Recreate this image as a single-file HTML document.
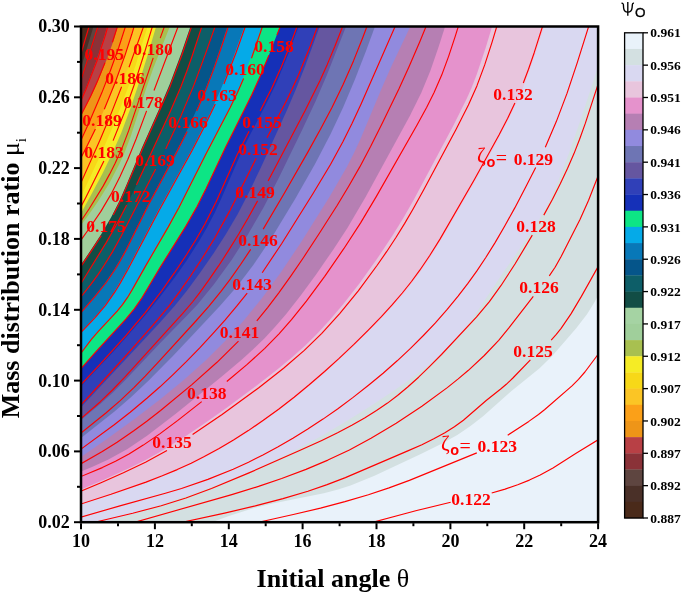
<!DOCTYPE html>
<html><head><meta charset="utf-8"><title>chart</title><style>html,body{margin:0;padding:0;background:#fff}</style></head><body>
<svg width="685" height="594" viewBox="0 0 685 594" style="display:block;will-change:transform;filter:grayscale(0)">
<defs><clipPath id="pc"><rect x="81.0" y="26.5" width="517.1" height="495.7"/></clipPath>
</defs>
<rect x="0" y="0" width="685" height="594" fill="#fff"/>
<g clip-path="url(#pc)" shape-rendering="geometricPrecision">
<rect x="81.0" y="26.5" width="517.1" height="495.7" fill="#e9f2fa"/>
<path d="M614.0,266.4 L594.3,302.4 L587.0,314.3 L576.0,328.6 L552.4,355.8 L539.6,368.3 L511.5,391.0 L483.1,416.3 L470.5,426.1 L457.3,435.0 L441.6,443.8 L421.9,453.6 L374.5,475.7 L350.5,485.5 L337.2,489.8 L323.8,493.3 L272.7,503.5 L253.2,508.3 L230.4,515.6 L181.1,533.1 L-100.0,533.1 L-100.0,-100.0 L614.0,-100.0Z" fill="#d3e0e1"/>
<path d="M607.8,36.7 L582.7,113.7 L568.9,153.4 L557.3,183.4 L551.6,196.1 L546.3,206.9 L539.5,219.0 L531.0,232.5 L502.4,273.7 L473.5,317.1 L466.4,326.7 L458.9,336.0 L450.9,344.8 L442.4,353.2 L428.8,365.0 L413.0,377.3 L394.8,390.1 L371.1,405.7 L345.6,421.7 L323.2,434.9 L300.5,447.5 L279.2,458.3 L261.2,466.7 L242.9,474.6 L222.5,482.8 L200.0,491.2 L154.5,506.7 L75.2,531.8 L-100.0,531.8 L-100.0,-100.0 L607.8,-100.0Z" fill="#d9d8f1"/>
<path d="M554.5,-6.4 L536.1,51.8 L525.3,81.9 L519.2,96.7 L512.6,111.3 L495.2,145.1 L477.7,176.6 L449.8,225.1 L437.5,245.8 L427.8,260.9 L417.5,275.7 L405.2,291.4 L392.2,306.6 L375.7,324.2 L355.9,344.0 L336.9,361.8 L317.5,379.1 L299.1,394.5 L280.1,409.3 L262.3,422.3 L244.0,434.6 L225.2,446.1 L209.4,454.9 L193.4,463.0 L177.1,470.4 L158.6,478.0 L139.8,485.0 L119.0,492.2 L48.2,514.9 L-100.0,514.9 L-100.0,-100.0 L554.5,-100.0Z" fill="#e8c5dd"/>
<path d="M502.0,-6.5 L485.6,48.1 L476.7,74.6 L471.6,87.7 L466.8,98.6 L453.4,125.5 L413.8,199.7 L402.9,218.7 L392.4,235.7 L376.9,259.1 L359.4,283.5 L343.4,304.1 L329.1,320.8 L316.9,334.0 L305.5,345.2 L292.1,357.2 L276.7,370.0 L256.1,386.0 L227.1,407.4 L205.8,422.6 L185.9,436.0 L158.7,452.8 L144.7,460.5 L132.2,466.8 L105.0,479.3 L49.4,503.1 L-100.0,503.1 L-100.0,-100.0 L502.0,-100.0Z" fill="#e592cc"/>
<path d="M455.5,-6.4 L438.9,46.1 L430.4,70.7 L421.3,92.8 L409.8,116.1 L365.6,196.9 L347.4,227.9 L333.2,249.7 L316.1,274.4 L300.7,295.5 L285.8,314.4 L275.4,326.5 L264.6,338.2 L253.2,349.3 L241.4,360.0 L221.5,376.8 L176.1,413.5 L147.4,435.6 L127.5,448.9 L108.4,459.6 L92.0,467.1 L49.2,484.6 L-100.0,484.6 L-100.0,-100.0 L455.5,-100.0Z" fill="#b67fb3"/>
<path d="M425.1,-4.6 L391.2,66.8 L381.5,88.7 L360.7,138.6 L354.0,153.1 L346.7,167.3 L329.6,196.8 L300.9,242.5 L280.8,272.4 L261.9,298.2 L244.2,320.0 L225.4,340.8 L205.6,360.5 L183.2,380.6 L160.0,399.6 L134.5,419.0 L106.9,438.9 L53.0,476.6 L-100.0,476.6 L-100.0,-100.0 L425.1,-100.0Z" fill="#918ade"/>
<path d="M386.9,-5.8 L365.8,51.4 L354.9,79.4 L343.3,107.0 L330.5,134.2 L314.9,164.3 L295.1,199.1 L271.2,238.5 L253.3,265.1 L237.6,285.7 L219.2,306.8 L173.9,355.0 L148.7,380.6 L131.2,397.0 L114.5,411.4 L54.2,459.2 L-100.0,459.2 L-100.0,-100.0 L386.9,-100.0Z" fill="#6e75b4"/>
<path d="M358.7,-5.6 L326.8,75.3 L315.7,101.0 L302.1,130.0 L278.5,178.6 L263.8,207.0 L247.8,234.8 L231.6,260.0 L214.0,284.3 L197.5,304.4 L186.6,316.1 L160.0,343.3 L125.6,379.7 L112.9,392.4 L101.1,403.2 L54.8,442.0 L-100.0,442.0 L-100.0,-100.0 L358.7,-100.0Z" fill="#6556a0"/>
<path d="M331.6,-5.9 L305.0,66.4 L296.1,88.7 L287.5,108.9 L261.8,165.4 L249.8,190.7 L237.9,213.8 L225.7,234.5 L213.8,253.0 L200.1,272.7 L187.1,290.5 L174.6,306.1 L160.0,322.5 L64.0,425.4 L-100.0,425.4 L-100.0,-100.0 L331.6,-100.0Z" fill="#3040b8"/>
<path d="M310.7,-5.8 L288.7,53.2 L276.5,82.8 L267.8,100.8 L250.2,134.5 L242.2,150.6 L221.4,198.3 L214.7,212.8 L207.3,227.0 L199.3,240.8 L187.4,259.4 L174.7,277.4 L160.3,296.6 L145.2,315.3 L129.6,333.6 L113.6,351.4 L57.8,410.9 L-100.0,410.9 L-100.0,-100.0 L310.7,-100.0Z" fill="#1530b8"/>
<path d="M292.6,-5.6 L269.0,55.0 L254.9,88.1 L246.3,106.1 L224.8,149.0 L202.5,196.0 L196.1,208.5 L189.2,220.6 L159.6,268.2 L143.3,295.8 L134.3,308.9 L124.1,321.2 L96.9,350.7 L58.5,393.6 L-100.0,393.6 L-100.0,-100.0 L292.6,-100.0Z" fill="#0de585"/>
<path d="M272.8,-6.1 L251.7,55.4 L244.6,74.1 L238.4,88.8 L228.0,110.4 L206.6,151.2 L184.2,195.9 L173.9,215.3 L132.3,288.4 L124.9,300.3 L116.4,311.3 L97.2,331.7 L90.6,339.3 L61.1,379.0 L-100.0,379.0 L-100.0,-100.0 L272.8,-100.0Z" fill="#05aae8"/>
<path d="M256.1,-6.0 L229.3,68.3 L220.3,90.6 L211.3,110.7 L193.4,146.5 L157.7,211.3 L126.0,271.4 L113.9,292.2 L108.3,300.5 L102.3,308.4 L90.3,321.9 L57.4,355.8 L-100.0,355.8 L-100.0,-100.0 L256.1,-100.0Z" fill="#0878b8"/>
<path d="M238.3,-6.2 L214.5,64.9 L206.8,85.5 L198.3,105.8 L190.9,122.2 L182.1,140.2 L148.4,203.8 L125.2,250.5 L114.3,269.6 L104.1,284.3 L91.4,299.8 L58.7,337.0 L-100.0,337.0 L-100.0,-100.0 L238.3,-100.0Z" fill="#05558a"/>
<path d="M226.6,-6.0 L204.3,57.2 L190.8,92.7 L174.9,129.4 L154.9,170.8 L121.8,234.9 L107.0,260.9 L99.3,272.6 L92.3,282.4 L60.2,323.3 L-100.0,323.3 L-100.0,-100.0 L226.6,-100.0Z" fill="#0d5e68"/>
<path d="M212.5,-6.3 L192.3,55.5 L180.6,87.4 L169.6,113.1 L136.9,184.0 L124.7,209.2 L112.3,232.0 L98.0,256.1 L67.5,305.6 L-100.0,305.6 L-100.0,-100.0 L212.5,-100.0Z" fill="#124d45"/>
<path d="M201.6,-6.1 L181.2,53.5 L170.0,83.5 L161.5,103.7 L142.0,147.6 L126.6,184.6 L119.4,201.1 L111.3,217.1 L101.2,234.3 L90.2,251.1 L62.2,292.1 L-100.0,292.1 L-100.0,-100.0 L201.6,-100.0Z" fill="#a0cf9b"/>
<path d="M182.6,-5.5 L153.4,68.0 L146.1,88.7 L130.8,136.3 L125.1,151.3 L119.4,164.1 L109.2,183.6 L97.5,202.3 L88.2,215.4 L60.7,251.7 L-100.0,251.7 L-100.0,-100.0 L182.6,-100.0Z" fill="#a8c050"/>
<path d="M165.9,-6.6 L148.6,51.9 L139.1,82.5 L130.2,109.0 L121.0,133.4 L112.2,153.6 L102.6,173.3 L91.3,194.5 L65.1,242.0 L-100.0,242.0 L-100.0,-100.0 L165.9,-100.0Z" fill="#f5ec25"/>
<path d="M157.9,-6.5 L135.6,65.2 L128.6,86.0 L120.9,106.6 L111.9,128.9 L101.5,152.7 L67.2,226.6 L-100.0,226.6 L-100.0,-100.0 L157.9,-100.0Z" fill="#f7d818"/>
<path d="M154.9,-5.9 L128.6,66.4 L112.0,109.3 L95.0,149.9 L67.8,210.8 L-100.0,210.8 L-100.0,-100.0 L154.9,-100.0Z" fill="#fbc525"/>
<path d="M143.8,-6.6 L127.5,48.1 L119.6,70.7 L111.1,93.1 L103.3,111.5 L94.2,131.5 L68.0,183.0 L-100.0,183.0 L-100.0,-100.0 L143.8,-100.0Z" fill="#fba018"/>
<path d="M135.6,-6.4 L119.4,44.1 L104.2,85.4 L89.6,120.5 L67.3,168.6 L-100.0,168.6 L-100.0,-100.0 L135.6,-100.0Z" fill="#ee9518"/>
<path d="M127.8,-6.5 L113.6,40.4 L107.5,57.4 L100.9,74.1 L95.4,86.9 L89.4,99.6 L65.6,144.8 L-100.0,144.8 L-100.0,-100.0 L127.8,-100.0Z" fill="#b84045"/>
<path d="M116.3,-6.8 L104.8,34.7 L96.1,61.3 L86.2,87.5 L68.0,128.9 L-100.0,128.9 L-100.0,-100.0 L116.3,-100.0Z" fill="#8a3238"/>
<path d="M109.1,-6.4 L72.0,111.4 L-100.0,111.4 L-100.0,-100.0 L109.1,-100.0Z" fill="#5e4540"/>
<path d="M103.4,-6.5 L72.4,96.5 L-100.0,96.5 L-100.0,-100.0 L103.4,-100.0Z" fill="#4a3028"/>
<path d="M97.7,-6.6 L72.6,78.6 L-100.0,78.6 L-100.0,-100.0 L97.7,-100.0Z" fill="#4a2a1a"/>
</g>
<g clip-path="url(#pc)"><g fill="none" stroke="#ff0000" stroke-width="1.15" stroke-linejoin="round">
<path d="M98.7,-6.0 L73.6,78.6 L69.1,91.8 L67.3,95.6 L62.9,102.7 L60.2,111.4"/>
<path d="M108.1,-6.0 L72.7,106.9 L71.0,110.7 L65.4,118.7 L64.1,121.2 L60.2,135.3"/>
<path d="M116.9,-6.0 L105.4,35.1 L96.9,61.1 L85.8,89.8 L69.3,126.9 L64.7,135.5 L60.9,150.5 L59.1,155.8"/>
<path d="M127.0,-6.0 L116.7,28.9 L112.4,42.2"/>
<path d="M105.0,62.6 L97.1,82.1 L91.0,95.5 L84.7,108.0 L66.2,143.3 L64.8,147.3 L61.3,161.5 L59.2,168.2"/>
<path d="M135.9,-6.0 L118.8,47.3 L110.7,69.7 L101.9,92.6 L89.0,122.8 L69.2,165.4 L68.5,166.6 L67.3,167.3 L65.0,165.9 L64.1,166.9 L60.7,179.8 L58.1,187.0"/>
<path d="M143.7,-6.0 L131.8,34.3 L124.9,55.6 L114.9,83.2 L104.3,109.2"/>
<path d="M95.4,128.9 L86.8,146.5 L68.8,181.4 L67.7,183.1 L66.6,184.0 L66.0,184.0 L64.6,182.4 L64.0,182.2 L63.6,182.7 L60.7,193.5 L58.1,200.8"/>
<path d="M154.9,-6.0 L154.3,-3.3 L129.0,67.2"/>
<path d="M121.6,86.8 L111.1,113.6 L100.0,140.0 L69.5,208.5 L68.8,209.6 L68.2,210.0 L67.6,209.7 L67.1,208.4 L66.3,204.3 L65.7,203.0 L64.8,201.9 L64.2,201.7 L62.9,202.2 L62.3,203.4 L60.0,211.5 L57.1,219.4"/>
<path d="M162.2,-6.0 L144.4,53.0 L134.4,84.3 L124.1,113.3 L113.1,140.6"/>
<path d="M103.9,161.0 L85.8,197.4 L67.4,232.7 L66.5,233.8 L65.8,233.9 L65.3,233.5 L63.0,228.4 L62.5,228.0 L61.9,228.1 L61.1,229.3 L57.1,240.5"/>
<path d="M175.7,-6.0 L175.7,-4.7 L160.2,38.1"/>
<path d="M153.2,57.9 L128.6,130.9 L122.1,147.9 L114.9,163.8 L109.5,174.4 L103.1,186.1 L89.2,208.8 L65.7,243.6 L63.9,245.7 L61.4,246.7 L60.3,247.6 L56.0,258.7"/>
<path d="M188.9,-6.0 L189.9,-5.0 L189.7,-4.4 L189.0,-3.2 L188.3,-0.5 L154.0,90.5"/>
<path d="M146.6,110.9 L136.3,138.5 L127.9,159.2 L119.8,177.1 L111.2,193.9 L100.9,211.4 L88.7,229.3 L63.9,264.1 L62.9,265.1 L60.0,266.9 L59.0,267.9 L56.0,275.8"/>
<path d="M202.6,-6.0 L181.9,55.0 L170.1,86.4 L162.1,105.1 L142.7,148.6 L124.2,192.4 L118.7,204.5 L113.3,215.1"/>
<path d="M101.3,235.7 L90.6,252.1 L64.4,291.0 L63.4,292.0 L62.1,292.1 L61.2,291.0 L60.0,288.5 L59.4,288.1 L58.8,288.1 L58.0,289.3 L55.0,297.1"/>
<path d="M212.5,-6.0 L192.4,55.2 L186.6,71.7 L180.9,86.8 L169.3,113.8 L136.4,185.0"/>
<path d="M126.7,205.1 L117.0,223.7 L106.2,242.6 L69.1,302.8 L68.2,303.9 L66.6,305.1 L62.6,306.4 L60.7,305.7 L59.3,304.1 L58.7,303.8 L58.0,303.9 L56.8,305.5 L55.0,310.1"/>
<path d="M226.5,-6.0 L205.4,54.1 L193.7,85.6 L181.0,115.9 L165.7,149.0"/>
<path d="M155.7,169.0 L121.1,236.2 L112.3,252.1 L104.2,265.3 L98.0,274.6 L91.4,283.6 L62.9,320.0 L61.3,321.3 L59.9,321.2 L57.9,320.6 L57.2,320.7 L55.9,322.3 L54.2,326.9"/>
<path d="M239.1,-6.0 L222.3,44.5 L214.3,67.6 L205.8,89.9 L196.7,111.1"/>
<path d="M187.2,131.4 L176.1,153.2 L148.4,205.1 L126.0,250.2 L120.3,260.7 L114.5,270.3 L105.8,283.0 L94.9,296.7 L59.5,337.2 L58.3,337.9 L56.2,338.1 L55.7,338.6 L54.0,342.4"/>
<path d="M256.9,-6.0 L236.0,52.7 L223.9,84.0"/>
<path d="M215.3,103.9 L204.7,126.0 L192.2,150.3 L158.1,212.2 L127.7,269.8 L120.5,282.6 L114.7,292.2 L105.5,305.4 L95.1,317.7 L59.7,354.6 L58.5,355.3 L55.8,354.8 L55.2,355.0 L54.4,356.2 L53.1,359.4"/>
<path d="M273.7,-6.0 L251.5,58.2"/>
<path d="M243.6,78.4 L237.5,92.5 L230.2,107.6 L206.2,153.6 L179.1,207.3 L168.3,226.9 L146.5,264.4 L132.4,289.4 L127.7,297.2 L122.5,304.7 L117.2,311.2 L98.1,331.7 L91.2,339.6 L62.5,377.6 L61.4,378.3 L60.7,378.3 L59.5,377.6 L55.3,371.1 L54.7,371.0 L54.2,371.5 L53.0,374.0"/>
<path d="M291.9,-6.0 L292.3,-4.7 L292.0,-4.1 L276.9,35.1"/>
<path d="M268.9,55.3 L260.3,75.9 L251.7,95.1 L225.7,147.1 L206.0,188.8 L197.2,206.3 L185.8,226.4 L160.5,266.8 L141.1,299.2 L134.3,308.9 L125.8,319.2 L96.0,351.7 L60.6,391.4 L59.4,392.2 L58.7,392.3 L57.5,391.7 L55.1,387.5 L54.5,387.1 L53.9,387.0 L53.4,387.4 L52.2,390.0"/>
<path d="M311.5,-6.0 L309.0,-4.9 L309.1,-4.3 L307.9,-2.5 L291.0,42.7 L281.4,66.8 L271.6,88.5 L260.1,110.9"/>
<path d="M249.1,131.2 L237.4,154.3 L215.9,202.2 L204.9,224.0 L196.2,239.2 L186.5,254.7 L174.5,272.7 L161.6,291.0 L145.1,312.8 L125.7,335.8 L99.5,364.9 L59.7,407.3 L58.6,408.1 L57.3,407.8 L54.1,402.4 L53.1,401.6 L53.0,401.0 L52.2,403.0"/>
<path d="M335.5,-6.0 L330.7,-4.9 L329.1,-3.7 L328.3,-2.5 L310.8,44.8 L298.4,75.2 L292.0,89.3 L285.3,103.1 L267.0,137.8"/>
<path d="M256.2,158.2 L229.5,211.4 L214.9,237.7 L203.5,256.2 L190.9,275.5 L179.3,292.2 L169.3,305.6 L154.5,323.4 L130.4,350.7 L98.5,386.0 L65.2,422.0 L64.1,422.8 L62.2,423.7 L58.8,424.1 L56.8,423.6 L55.6,422.8 L53.4,419.2 L52.3,418.7 L52.0,418.0 L51.2,419.9"/>
<path d="M359.0,-6.0 L357.0,-5.5 L355.3,-4.3 L354.0,-2.6 L334.9,46.3 L327.3,64.4 L319.8,80.9 L304.9,111.1 L268.1,181.1"/>
<path d="M257.6,200.9 L248.1,218.0 L238.9,233.7 L228.6,250.4 L218.7,265.7 L208.4,280.7 L199.4,293.1 L192.5,302.0 L182.1,314.2 L124.6,377.4 L112.5,390.0 L100.4,401.7 L70.3,427.9 L57.9,438.1 L56.6,438.6 L55.2,438.5 L53.7,437.1 L52.6,435.3 L52.0,433.3 L51.3,434.3"/>
<path d="M382.6,-6.0 L380.0,-5.2 L377.8,-2.5 L362.8,37.5 L353.5,60.9 L343.1,84.6 L332.1,107.3 L321.0,128.3 L308.1,151.6 L285.2,191.7 L263.2,229.1"/>
<path d="M250.7,249.4 L240.6,264.5 L230.5,278.8 L220.8,291.6 L208.8,306.3 L195.9,321.0 L157.6,362.8 L145.2,376.1 L133.9,387.6 L120.2,400.6 L105.9,413.0 L57.4,452.0 L55.4,452.7 L54.1,452.3 L52.8,450.7 L51.0,446.9"/>
<path d="M406.8,-6.0 L408.7,-5.1 L408.2,-4.5 L408.1,-3.1 L361.1,103.9 L352.0,123.6 L342.9,141.8 L330.5,164.5 L313.2,193.3 L281.6,243.7 L262.2,272.8"/>
<path d="M247.2,293.1 L236.7,306.2 L225.0,320.1 L212.4,334.2 L199.5,348.1 L186.3,361.6 L172.8,374.8 L160.0,386.8 L146.9,398.3 L130.2,412.2 L114.2,424.7 L56.7,467.0 L54.7,467.7 L53.5,467.2 L52.5,466.1 L51.2,462.9 L50.1,462.0"/>
<path d="M436.9,-6.0 L438.1,-5.2 L438.2,-4.8 L437.8,-4.2 L437.5,-2.2 L436.1,1.8 L420.0,41.3 L408.9,67.0 L399.0,88.7 L382.5,122.7 L370.6,146.5 L359.8,166.9 L349.0,185.7 L337.1,205.5 L319.4,233.3 L303.7,257.2 L290.6,276.3 L278.8,292.8 L267.8,307.3 L256.8,320.9"/>
<path d="M238.5,341.2 L217.0,362.3 L191.9,384.6 L160.6,410.5 L146.8,421.2 L133.8,430.7 L117.1,442.3 L102.3,451.6 L56.1,477.9 L53.5,478.9 L52.1,478.7 L51.0,478.9 L50.0,476.3"/>
<path d="M468.4,-6.0 L455.3,36.1 L448.7,56.1 L441.7,75.1 L434.1,92.4 L426.6,107.5 L416.9,125.3 L376.4,196.4 L360.6,222.9 L343.8,248.7 L324.7,276.3 L306.4,301.1 L291.5,319.7 L279.0,333.8 L264.8,348.3 L247.2,364.4 L226.8,381.5"/>
<path d="M201.7,401.6 L177.5,420.6 L160.1,433.6 L143.3,445.1 L129.0,453.9 L115.5,461.2 L102.3,467.6 L50.6,489.2"/>
<path d="M506.6,-6.0 L492.0,42.3 L484.7,64.9 L476.9,85.9 L468.4,105.1 L456.0,129.4 L424.0,189.3 L412.8,209.5 L404.7,223.4 L395.8,237.7 L386.6,251.7 L377.0,265.5 L358.3,290.8 L339.7,313.6 L321.8,333.3 L304.3,350.4 L283.6,368.2 L258.8,387.7 L222.1,414.5 L192.6,434.6"/>
<path d="M167.0,450.4 L145.5,462.2 L123.4,472.8 L101.0,482.7 L50.6,503.7"/>
<path d="M552.8,-6.0 L534.2,52.7 L528.5,69.3 L523.3,83.0"/>
<path d="M514.9,103.0 L507.7,118.2 L499.0,135.0 L474.0,180.3 L440.0,239.1 L429.6,255.7 L419.8,270.2 L411.5,281.5 L402.3,293.0 L392.3,304.7 L381.4,316.6 L368.3,330.1 L353.9,344.4 L339.1,358.4 L324.6,371.5 L309.2,384.8 L294.1,397.2 L278.6,409.2 L263.3,420.3 L248.3,430.6 L233.5,440.0 L219.1,448.6 L204.3,456.6 L191.2,463.2 L177.2,469.6 L162.3,475.8 L146.0,482.1 L111.0,494.3 L50.4,513.9"/>
<path d="M591.5,17.4 L577.2,62.9 L567.0,93.4 L556.3,121.6 L545.3,147.3"/>
<path d="M535.7,167.5 L525.2,188.1 L514.8,207.9 L504.6,226.3 L495.1,242.6 L485.8,257.5 L476.9,270.9 L467.9,283.4 L458.1,296.2 L447.0,309.7 L435.4,322.8 L423.4,335.5 L410.5,348.4 L397.2,360.8 L383.1,373.3 L368.5,385.3 L353.1,397.4 L337.9,408.7 L323.0,419.1 L307.8,429.1 L292.9,438.3 L277.7,447.1 L262.9,455.0 L248.5,462.2 L233.2,469.2 L207.9,479.4 L181.5,488.5 L165.4,493.3 L120.8,505.6 L73.8,519.2"/>
<path d="M600.0,78.2 L585.3,123.4 L579.6,139.2 L574.0,153.6 L567.6,168.3 L560.4,183.6 L552.5,199.2 L543.8,215.1"/>
<path d="M532.3,235.1 L515.0,264.0 L500.9,285.7 L489.4,301.6 L476.4,317.1 L441.5,354.5 L429.2,366.9 L418.6,377.2 L407.7,387.0 L397.5,395.5 L387.5,403.1 L376.5,410.6 L364.6,418.0 L351.8,425.3 L337.6,432.8 L321.8,440.4 L299.6,450.6 L249.6,472.6 L211.5,488.5 L185.9,498.0 L161.2,505.7 L132.7,513.3 L90.5,523.2"/>
<path d="M600.6,169.6 L588.6,200.2 L580.0,219.4 L561.0,256.8 L555.1,267.2 L549.3,275.9"/>
<path d="M533.3,296.3 L508.9,327.9 L498.7,340.3 L484.3,355.5 L468.4,370.3 L458.2,378.9 L447.3,387.6 L421.9,406.2 L396.2,423.2 L371.0,438.3 L349.4,449.9 L327.9,460.1 L306.0,469.4 L281.7,478.5 L258.5,486.4 L231.8,494.6 L130.1,523.6"/>
<path d="M601.9,259.8 L581.4,296.4 L571.0,313.9 L561.1,328.3 L556.3,334.3 L551.2,340.1"/>
<path d="M530.4,359.9 L512.9,378.0 L506.3,384.3 L501.0,388.8 L486.2,400.5 L463.4,420.2 L454.4,426.8 L444.9,432.8 L433.8,438.8 L421.9,444.7 L407.8,450.9 L345.4,477.6 L327.1,484.6 L307.9,491.2 L283.0,498.6 L255.3,505.9 L224.6,513.1 L178.8,523.0"/>
<path d="M602.9,347.9 L584.9,372.0 L578.5,379.4 L572.0,385.9 L544.5,409.7 L538.5,414.5 L528.8,421.4 L507.7,435.2"/>
<path d="M476.8,452.9 L409.4,480.4 L389.0,487.9 L368.4,494.7 L344.9,501.6 L320.5,508.1 L293.3,514.5 L252.3,523.6"/>
<path d="M603.5,436.5 L576.1,453.3 L553.0,468.0 L540.2,475.1 L529.4,480.1 L517.7,484.8 L505.1,489.1 L491.7,493.0"/>
<path d="M450.7,502.3 L416.7,510.5 L366.7,523.9"/>
</g></g>
<g font-family="'Liberation Serif', serif" font-weight="bold" font-size="17.5px" fill="#ff0000" text-anchor="middle">
<text x="104.3" y="59.6">0.195</text>
<text x="153.0" y="55.0">0.180</text>
<text x="125.0" y="84.0">0.186</text>
<text x="143.0" y="108.0">0.178</text>
<text x="102.0" y="126.0">0.189</text>
<text x="188.0" y="128.0">0.166</text>
<text x="217.0" y="101.0">0.163</text>
<text x="245.0" y="75.0">0.160</text>
<text x="274.0" y="52.0">0.158</text>
<text x="262.0" y="128.0">0.155</text>
<text x="104.0" y="158.0">0.183</text>
<text x="155.0" y="166.0">0.169</text>
<text x="258.0" y="155.0">0.152</text>
<text x="130.8" y="202.0">0.172</text>
<text x="106.0" y="232.3">0.175</text>
<text x="255.0" y="198.0">0.149</text>
<text x="258.0" y="246.0">0.146</text>
<text x="252.0" y="290.0">0.143</text>
<text x="239.5" y="338.0">0.141</text>
<text x="206.8" y="398.6">0.138</text>
<text x="172.0" y="447.6">0.135</text>
<text x="513.0" y="100.0">0.132</text>
<text x="536.0" y="232.0">0.128</text>
<text x="539.0" y="293.0">0.126</text>
<text x="533.0" y="357.0">0.125</text>
<text x="471.0" y="504.8">0.122</text>
<text x="533.4" y="164.6">0.129</text>
<text x="497.2" y="452.2">0.123</text>
</g>
<g fill="#ff0000"><text x="477.1" y="162.4" font-family="'Liberation Serif', serif" font-size="21px">ζ</text><text x="486.4" y="167.4" font-family="'Liberation Sans', sans-serif" font-weight="bold" font-size="14.5px">o</text><text x="495.7" y="165.0" font-family="'Liberation Serif', serif" font-size="20px">=</text></g>
<g fill="#ff0000"><text x="440.9" y="450.0" font-family="'Liberation Serif', serif" font-size="21px">ζ</text><text x="450.2" y="455.0" font-family="'Liberation Sans', sans-serif" font-weight="bold" font-size="14.5px">o</text><text x="459.5" y="452.6" font-family="'Liberation Serif', serif" font-size="20px">=</text></g>
<g stroke="#000" stroke-width="2.5" fill="none">
<rect x="81.0" y="26.5" width="517.1" height="495.7"/>
</g><g stroke="#000" stroke-width="2" fill="none">
<path d="M81.0,523.2 v6.0"/>
<path d="M118.0,523.2 v3.0"/>
<path d="M154.9,523.2 v6.0"/>
<path d="M191.8,523.2 v3.0"/>
<path d="M228.8,523.2 v6.0"/>
<path d="M265.7,523.2 v3.0"/>
<path d="M302.6,523.2 v6.0"/>
<path d="M339.6,523.2 v3.0"/>
<path d="M376.5,523.2 v6.0"/>
<path d="M413.4,523.2 v3.0"/>
<path d="M450.4,523.2 v6.0"/>
<path d="M487.3,523.2 v3.0"/>
<path d="M524.2,523.2 v6.0"/>
<path d="M561.2,523.2 v3.0"/>
<path d="M598.1,523.2 v6.0"/>
<path d="M80.0,522.2 h-6.0"/>
<path d="M80.0,486.8 h-3.0"/>
<path d="M80.0,451.4 h-6.0"/>
<path d="M80.0,416.0 h-3.0"/>
<path d="M80.0,380.6 h-6.0"/>
<path d="M80.0,345.2 h-3.0"/>
<path d="M80.0,309.8 h-6.0"/>
<path d="M80.0,274.4 h-3.0"/>
<path d="M80.0,238.9 h-6.0"/>
<path d="M80.0,203.5 h-3.0"/>
<path d="M80.0,168.1 h-6.0"/>
<path d="M80.0,132.7 h-3.0"/>
<path d="M80.0,97.3 h-6.0"/>
<path d="M80.0,61.9 h-3.0"/>
<path d="M80.0,26.5 h-6.0"/>
</g>
<g font-family="'Liberation Serif', serif" font-weight="bold" font-size="18px" fill="#000">
<text x="81.0" y="546.9" text-anchor="middle">10</text>
<text x="154.9" y="546.9" text-anchor="middle">12</text>
<text x="228.8" y="546.9" text-anchor="middle">14</text>
<text x="302.6" y="546.9" text-anchor="middle">16</text>
<text x="376.5" y="546.9" text-anchor="middle">18</text>
<text x="450.4" y="546.9" text-anchor="middle">20</text>
<text x="524.2" y="546.9" text-anchor="middle">22</text>
<text x="598.1" y="546.9" text-anchor="middle">24</text>
<text x="69.7" y="528.1" text-anchor="end">0.02</text>
<text x="69.7" y="457.3" text-anchor="end">0.06</text>
<text x="69.7" y="386.5" text-anchor="end">0.10</text>
<text x="69.7" y="315.7" text-anchor="end">0.14</text>
<text x="69.7" y="244.8" text-anchor="end">0.18</text>
<text x="69.7" y="174.0" text-anchor="end">0.22</text>
<text x="69.7" y="103.2" text-anchor="end">0.26</text>
<text x="69.7" y="32.4" text-anchor="end">0.30</text>
</g>
<text x="256.6" y="586.7" font-family="'Liberation Serif', serif" font-weight="bold" font-size="26px" fill="#000">Initial angle <tspan font-weight="normal">θ</tspan></text>
<text transform="translate(19.0,418.3) rotate(-90)" font-family="'Liberation Serif', serif" font-weight="bold" font-size="26px" fill="#000">Mass distribution ratio <tspan font-weight="normal">μ</tspan><tspan font-weight="normal" font-size="15px" dy="6.5">i</tspan></text>
<rect x="624.6" y="32.80" width="18.4" height="16.47" fill="#e9f2fa"/>
<rect x="624.6" y="48.97" width="18.4" height="16.47" fill="#d3e0e1"/>
<rect x="624.6" y="65.15" width="18.4" height="16.47" fill="#d9d8f1"/>
<rect x="624.6" y="81.32" width="18.4" height="16.47" fill="#e8c5dd"/>
<rect x="624.6" y="97.49" width="18.4" height="16.47" fill="#e592cc"/>
<rect x="624.6" y="113.67" width="18.4" height="16.47" fill="#b67fb3"/>
<rect x="624.6" y="129.84" width="18.4" height="16.47" fill="#918ade"/>
<rect x="624.6" y="146.01" width="18.4" height="16.47" fill="#6e75b4"/>
<rect x="624.6" y="162.19" width="18.4" height="16.47" fill="#6556a0"/>
<rect x="624.6" y="178.36" width="18.4" height="16.47" fill="#3040b8"/>
<rect x="624.6" y="194.53" width="18.4" height="16.47" fill="#1530b8"/>
<rect x="624.6" y="210.71" width="18.4" height="16.47" fill="#0de585"/>
<rect x="624.6" y="226.88" width="18.4" height="16.47" fill="#05aae8"/>
<rect x="624.6" y="243.05" width="18.4" height="16.47" fill="#0878b8"/>
<rect x="624.6" y="259.23" width="18.4" height="16.47" fill="#05558a"/>
<rect x="624.6" y="275.40" width="18.4" height="16.47" fill="#0d5e68"/>
<rect x="624.6" y="291.57" width="18.4" height="16.47" fill="#124d45"/>
<rect x="624.6" y="307.75" width="18.4" height="16.47" fill="#a5d3a3"/>
<rect x="624.6" y="323.92" width="18.4" height="16.47" fill="#a0cf9b"/>
<rect x="624.6" y="340.09" width="18.4" height="16.47" fill="#a8c050"/>
<rect x="624.6" y="356.27" width="18.4" height="16.47" fill="#f5ec25"/>
<rect x="624.6" y="372.44" width="18.4" height="16.47" fill="#f7d818"/>
<rect x="624.6" y="388.61" width="18.4" height="16.47" fill="#fbc525"/>
<rect x="624.6" y="404.79" width="18.4" height="16.47" fill="#fba018"/>
<rect x="624.6" y="420.96" width="18.4" height="16.47" fill="#ee9518"/>
<rect x="624.6" y="437.13" width="18.4" height="16.47" fill="#b84045"/>
<rect x="624.6" y="453.31" width="18.4" height="16.47" fill="#8a3238"/>
<rect x="624.6" y="469.48" width="18.4" height="16.47" fill="#5e4540"/>
<rect x="624.6" y="485.65" width="18.4" height="16.47" fill="#4a3028"/>
<rect x="624.6" y="501.83" width="18.4" height="16.47" fill="#4a2a1a"/>
<rect x="624.6" y="32.8" width="18.4" height="485.2" fill="none" stroke="#000" stroke-width="1.3"/>
<g stroke="#000" stroke-width="1.3">
<path d="M643.0,32.80 h5"/>
<path d="M643.0,65.15 h5"/>
<path d="M643.0,97.49 h5"/>
<path d="M643.0,129.84 h5"/>
<path d="M643.0,162.19 h5"/>
<path d="M643.0,194.53 h5"/>
<path d="M643.0,226.88 h5"/>
<path d="M643.0,259.23 h5"/>
<path d="M643.0,291.57 h5"/>
<path d="M643.0,323.92 h5"/>
<path d="M643.0,356.27 h5"/>
<path d="M643.0,388.61 h5"/>
<path d="M643.0,420.96 h5"/>
<path d="M643.0,453.31 h5"/>
<path d="M643.0,485.65 h5"/>
<path d="M643.0,518.00 h5"/>
</g><g font-family="'Liberation Serif', serif" font-weight="bold" font-size="13.5px" fill="#000">
<text x="650.3" y="37.4">0.961</text>
<text x="650.3" y="69.7">0.956</text>
<text x="650.3" y="102.1">0.951</text>
<text x="650.3" y="134.4">0.946</text>
<text x="650.3" y="166.8">0.941</text>
<text x="650.3" y="199.1">0.936</text>
<text x="650.3" y="231.5">0.931</text>
<text x="650.3" y="263.8">0.926</text>
<text x="650.3" y="296.2">0.922</text>
<text x="650.3" y="328.5">0.917</text>
<text x="650.3" y="360.9">0.912</text>
<text x="650.3" y="393.2">0.907</text>
<text x="650.3" y="425.6">0.902</text>
<text x="650.3" y="457.9">0.897</text>
<text x="650.3" y="490.3">0.892</text>
<text x="650.3" y="522.6">0.887</text>
</g>
<g fill="none" stroke="#000" stroke-width="1.35" stroke-linecap="butt"><path d="M627.8,2.0 V15.8"/><path d="M621.5,3.4 q1.6,-0.5 1.9,1.2 l0.2,3.2 q0.3,4.3 4.2,4.3 q3.9,0 4.3,-4.5 l0.3,-3.2 q0.2,-1.4 1.6,-1.2"/></g>
<text x="635" y="16.8" font-family="'Liberation Sans', sans-serif" font-size="13.5px" fill="#000" stroke="#000" stroke-width="0.35">O</text>
</svg>
</body></html>
